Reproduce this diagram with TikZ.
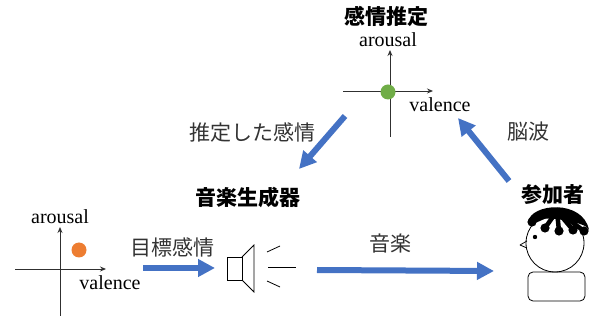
\documentclass[tikz,border=0pt]{standalone}
\usepackage{fontspec}
\setmainfont{Liberation Serif}
\newfontfamily\jp{Noto Sans CJK JP}
\usetikzlibrary{arrows.meta}
\definecolor{flowblue}{HTML}{4472C4}
\definecolor{dotgreen}{HTML}{70AD47}
\definecolor{dotorange}{HTML}{ED7D31}
\definecolor{axisgray}{HTML}{303030}
\tikzset{
  flow/.style={draw=flowblue, line width=6pt,
    -{Triangle[length=17pt,width=17pt]}},
  axis/.style={draw=axisgray, line width=0.9pt,
    -{Stealth[length=6pt,width=5pt]}},
  plainaxis/.style={draw=axisgray, line width=0.9pt},
  latin/.style={font=\fontsize{20}{22}\selectfont, inner sep=0pt},
  jplabel/.style={font=\jp\fontsize{21}{23}\selectfont, text=black!80, inner sep=0pt},
  jptitle/.style={font=\jp\bfseries\fontsize{21}{23}\selectfont, inner sep=0pt},
  outline/.style={draw=black, line width=0.8pt},
  strand/.style={draw=black, line width=4.5pt, line cap=round}
}
\begin{document}
\begin{tikzpicture}[x=1pt,y=-1pt]
\useasboundingbox (0,0) rectangle (592,320);

% estimated-emotion plane (top)
\node[jptitle] (esttitle) at (386,16) {感情推定};
\node[latin] (estaro) at (388,40) {arousal};
\node[latin] (estval) at (440,105) {valence};
\coordinate (estL) at (343,91);
\coordinate (estR) at (433,91);
\coordinate (estT) at (390,50);
\coordinate (estB) at (390,137);
\draw[plainaxis] (estB) -- (390,91);
\draw[axis] (390,91) -- (estT);
\draw[axis] (estL) -- (estR);
\fill[dotgreen] (388,92) circle (7.5);

% target-emotion plane (bottom left)
\node[latin] (tgtaro) at (60,217) {arousal};
\node[latin] (tgtval) at (110,283) {valence};
\coordinate (tgtL) at (15,269);
\coordinate (tgtR) at (106,269);
\coordinate (tgtT) at (60,227);
\coordinate (tgtB) at (60,316);
\draw[plainaxis] (tgtB) -- (60,269);
\draw[axis] (60,269) -- (tgtT);
\draw[axis] (tgtL) -- (tgtR);
\fill[dotorange] (79,250) circle (7.5);

% music generator (speaker)
\node[jptitle] (gentitle) at (248,198) {音楽生成器};
\draw[outline] (227,257) rectangle (242,280);
\draw[outline] (242,257) -- (254,245) -- (254,292) -- (242,280);
\draw[outline] (267,252) -- (280,246);
\draw[outline] (268,267) -- (296,267);
\draw[outline] (267,281) -- (280,287);
\coordinate (spkL) at (215,268);
\coordinate (spkR) at (317,270);

% participant: head, hair strands, eye, beak and body
\node[jptitle] (parttitle) at (553,195) {参加者};
\draw[outline, fill=white] (555,243) circle (29);
\fill[black] (528,222) .. controls (531,203) and (583,199) .. (589,230)
  -- (585,226) .. controls (570,219) and (545,217) .. (533,220) -- cycle;
\coordinate (hub) at (557,211);
\foreach \p in {(532,222),(545,228),(559,231),(573,230),(584,231)}{
  \draw[strand] (hub) -- \p;
  \fill[black] \p circle (4.6);
}
\fill[black] (535,237) circle (2.2);
\draw[outline, line join=round] (527,241) -- (520,245) -- (527,248);
\draw[outline, rounded corners=5pt] (528,272) rectangle (585,301);
\coordinate (partUp) at (509,181);
\coordinate (partIn) at (494,271);

% flows between the stages
\coordinate (tgtOut) at (143,268);
\draw[flow] (tgtOut) -- (spkL);
\node[jplabel] (lblTarget) at (172,247) {目標感情};

\draw[flow] (spkR) -- (partIn);
\node[jplabel] (lblMusic) at (390,244) {音楽};

\coordinate (estIn) at (458,118);
\draw[flow] (partUp) -- (estIn);
\node[jplabel] (lblEEG) at (528,132) {脳波};

\coordinate (estOut) at (345,116);
\coordinate (genIn) at (299,169);
\draw[flow] (estOut) -- (genIn);
\node[jplabel] (lblEst) at (252,133) {推定した感情};
\end{tikzpicture}
\end{document}
